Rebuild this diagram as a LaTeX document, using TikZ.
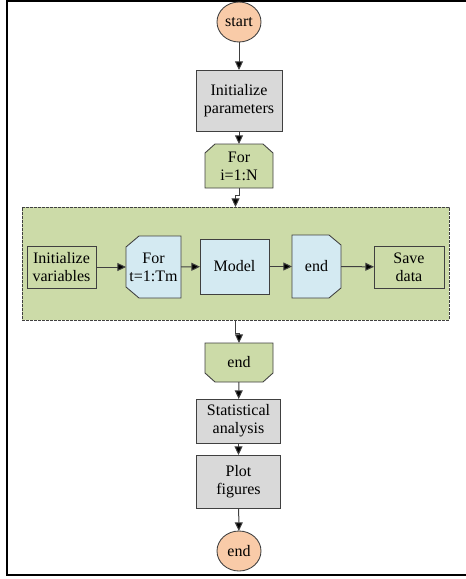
\documentclass[tikz,border=0pt]{standalone}
\usepackage{fontspec}
\setmainfont{Liberation Serif}
\usetikzlibrary{arrows.meta,calc,positioning,shapes.geometric}
\pgfdeclarelayer{bg}
\pgfdeclarelayer{shp}
\pgfsetlayers{bg,shp,main}
\definecolor{orfill}{RGB}{249,203,168}
\definecolor{grfill}{RGB}{217,217,217}
\definecolor{gnfill}{RGB}{204,219,168}
\definecolor{blfill}{RGB}{212,234,242}
\definecolor{edge}{RGB}{64,64,64}
\begin{document}
\begin{tikzpicture}[x=0.75pt,y=-0.75pt,
  every node/.style={font=\fontsize{12}{13.5}\selectfont, align=center, inner sep=1pt, outer sep=0pt},
  term/.style={ellipse, draw=edge, line width=0.65pt, fill=orfill, minimum width=33pt, minimum height=30pt},
  graybox/.style={rectangle, draw=edge, line width=0.65pt, fill=grfill},
  gbox/.style={rectangle, draw=edge, line width=0.65pt, fill=gnfill},
  txt/.style={rectangle, draw=none, fill=none},
  poly/.style={draw=edge, line width=0.65pt},
  conn/.style={draw=edge, line width=0.75pt, -{Triangle[length=6.5pt,width=6pt,fill=black]}},
]
\useasboundingbox (0,0) rectangle (466,579);
% frame
\draw[line width=1.6pt, line cap=rect] (466,1) -- (7,1) -- (7,575) -- (466,575);

% container
\begin{pgfonlayer}{bg}
\node[rectangle, draw=edge, line width=0.65pt, dash pattern=on 2pt off 1pt, fill=gnfill,
  minimum width=320.25pt, minimum height=84.75pt] (grp) at (235.5,263.5) {};
\end{pgfonlayer}

% main column
\node[term] (start) at (239,22) {start};
\node[graybox, minimum width=64.5pt, minimum height=45.75pt] (initp) at (239,100.5) {Initialize\\parameters};
\node[txt, minimum width=51pt, minimum height=33pt] (fori) at (239,166) {For\\i=1:N};
\node[txt, minimum width=51pt, minimum height=29.25pt] (endo) at (239,362.5) {end};
\node[graybox, minimum width=63pt, minimum height=33pt] (stat) at (238.5,421) {Statistical\\analysis};
\node[graybox, minimum width=63pt, minimum height=39.75pt] (plot) at (238.5,481.5) {Plot\\figures};
\node[term] (endc) at (239,551) {end};

% inner row
\node[gbox, minimum width=51.75pt, minimum height=31.5pt] (initv) at (61.5,267) {Initialize\\variables};
\node[txt, minimum width=41.25pt, minimum height=46.5pt] (fort) at (153.5,267) {For\\t=1:Tm};
\node[rectangle, draw=edge, line width=0.65pt, fill=blfill, minimum width=51.75pt, minimum height=41.25pt] (model) at (234.5,266.5) {Model};
\node[txt, minimum width=36.75pt, minimum height=47.25pt] (endin) at (316.5,266.5) {end};
\node[gbox, minimum width=52.5pt, minimum height=31.5pt] (save) at (409,267) {Save\\data};

% chamfered shapes
\begin{pgfonlayer}{shp}
\filldraw[poly, fill=gnfill] (fori.south west) -- ($(fori.north west)+(0,9)$) -- ($(fori.north west)+(10,0)$)
  -- ($(fori.north east)+(-10,0)$) -- ($(fori.north east)+(0,9)$) -- (fori.south east) -- cycle;
\filldraw[poly, fill=gnfill] (endo.north west) -- (endo.north east) -- ($(endo.south east)+(0,-9)$)
  -- ($(endo.south east)+(-10,0)$) -- ($(endo.south west)+(10,0)$) -- ($(endo.south west)+(0,-9)$) -- cycle;
\filldraw[poly, fill=blfill] ($(fort.north west)+(13,0)$) -- (fort.north east) -- (fort.south east)
  -- ($(fort.south west)+(13,0)$) -- ($(fort.south west)+(0,-11)$) -- ($(fort.north west)+(0,11)$) -- cycle;
\filldraw[poly, fill=blfill] (endin.north west) -- ($(endin.north east)+(-12,0)$) -- ($(endin.north east)+(0,10)$)
  -- ($(endin.south east)+(0,-10)$) -- ($(endin.south east)+(-12,0)$) -- (endin.south west) -- cycle;
\end{pgfonlayer}

% connectors
\draw[conn] (start) -- (initp);
\draw[conn] (initp) -- (fori);
\draw[conn] (fori.south) -- ++(0,7) -| (grp.north);
\draw[conn] (initv) -- (fort);
\draw[conn] (fort) -- (model);
\draw[conn] (model) -- (endin);
\draw[conn] (endin) -- (save);
\draw[conn] (grp.south) -- ++(0,13) -| (endo.north);
\draw[conn] (endo) -- (stat);
\draw[conn] (stat) -- (plot);
\draw[conn] (plot) -- (endc);
\end{tikzpicture}
\end{document}
